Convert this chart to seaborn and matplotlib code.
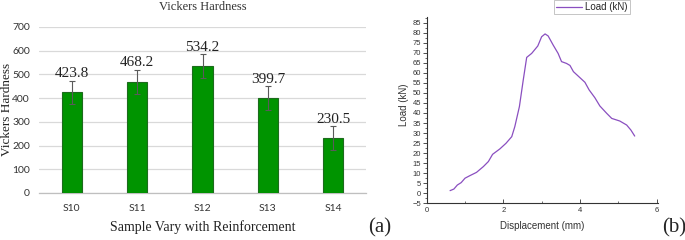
import numpy as np
import pandas as pd
import matplotlib
matplotlib.use("Agg")
import matplotlib.pyplot as plt
import seaborn as sns
from matplotlib.ticker import MultipleLocator

# ---- data ----
samples = ["S10", "S11", "S12", "S13", "S14"]
hardness = [423.8, 468.2, 534.2, 399.7, 230.5]
hardness_err = [50, 50, 50, 50, 50]

displacement = [0.61, 0.71, 0.80, 0.90, 1.00, 1.13, 1.30, 1.48, 1.61, 1.72, 1.91,
                2.07, 2.22, 2.30, 2.42, 2.52, 2.61, 2.74, 2.90, 3.00, 3.09, 3.17,
                3.30, 3.43, 3.52, 3.65, 3.74, 3.83, 4.00, 4.13, 4.24, 4.39, 4.52,
                4.70, 4.83, 5.04, 5.22, 5.33, 5.43]
load = [1.3, 2.1, 4.1, 5.3, 7.5, 8.8, 10.4, 13.3, 15.8, 19.4, 22.1,
        24.9, 28.2, 33.2, 43.2, 56.4, 67.7, 69.7, 73.4, 78.0, 79.4, 78.4,
        73.9, 69.7, 65.6, 64.7, 63.7, 60.6, 57.6, 55.3, 51.5, 47.6, 43.5,
        39.8, 37.3, 36.0, 34.0, 31.5, 28.5]

sns.set_theme(style="white")
plt.rcParams['font.family'] = ['Liberation Serif', 'DejaVu Sans']

fig = plt.figure(figsize=(6.85, 2.4), dpi=100)

# ---- left panel ----
axL = fig.add_axes([39/685, 0.196, (366-39)/685, 0.692])
df = pd.DataFrame({"sample": samples, "hv": hardness})
sns.barplot(data=df, x="sample", y="hv", ax=axL, color="#009400",
            saturation=1, width=0.31, edgecolor="#1d6b1d", linewidth=0.8,
            errorbar=None, zorder=3)
axL.errorbar(x=np.arange(len(samples)), y=hardness, yerr=hardness_err,
             fmt="none", ecolor="#5a5a5a", elinewidth=0.8, capsize=2.5,
             capthick=0.8, zorder=4)
for i, v in enumerate(hardness):
    axL.text(i, v + hardness_err[i] + 3, f"{v}", ha="center", va="bottom",
             fontsize=11, color="#222222")
axL.set_ylim(0, 700)
axL.set_xlim(-0.5, 4.5)
axL.yaxis.set_major_locator(MultipleLocator(100))
axL.grid(axis="y", color="#d9d9d9", linewidth=0.9, zorder=0)
axL.set_axisbelow(True)
for s in ["top", "right", "left"]:
    axL.spines[s].set_visible(False)
axL.spines["bottom"].set_color("#bfbfbf")
axL.spines["bottom"].set_linewidth(0.9)
axL.tick_params(axis="both", length=0, labelsize=7.5, colors="#333333", pad=8)
for lab in axL.get_xticklabels() + axL.get_yticklabels():
    lab.set_fontfamily("Lato")
axL.tick_params(axis="y", pad=6.5)
axL.set_title("Vickers Hardness", fontsize=9, color="#333333", pad=12)
axL.set_xlabel("Sample Vary with Reinforcement", fontsize=10, color="#222222", labelpad=5)
axL.set_ylabel("Vickers Hardness", fontsize=9.5, color="#222222")
axL.yaxis.set_label_coords(-0.081, 0.5)

fig.text(380/685, 1 - 228/240, "(a)", ha="center", va="center", fontsize=15)
fig.text(674/685, 1 - 228/240, "(b)", ha="center", va="center", fontsize=15)

# ---- right panel ----
axR = fig.add_axes([426.7/685, 0.153, 231/685, 0.775])
sns.lineplot(x=displacement, y=load, sort=False, ax=axR, color="#8a4fc0",
             linewidth=0.9, label="Load (kN)")
axR.set_xlim(0, 6.03)
axR.set_ylim(-5, 87.7)
axR.xaxis.set_major_locator(MultipleLocator(2))
axR.xaxis.set_minor_locator(MultipleLocator(1))
axR.yaxis.set_major_locator(MultipleLocator(5))
axR.yaxis.set_minor_locator(MultipleLocator(2.5))
for s in ["top", "right"]:
    axR.spines[s].set_visible(False)
for s in ["left", "bottom"]:
    axR.spines[s].set_color("#333333")
    axR.spines[s].set_linewidth(0.8)
axR.tick_params(axis="y", which="major", direction="out", length=3, width=0.6,
                labelsize=5.5, pad=1, colors="#333333", left=True)
axR.tick_params(axis="y", which="minor", direction="out", length=1.8, width=0.5,
                colors="#333333", left=True)
axR.tick_params(axis="x", which="major", direction="in", length=3, width=0.6,
                labelsize=5.5, pad=3, colors="#333333", bottom=True)
axR.tick_params(axis="x", which="minor", direction="in", length=1.8, width=0.5,
                colors="#333333", bottom=True)
for lab in axR.get_xticklabels() + axR.get_yticklabels():
    lab.set_fontfamily("Liberation Sans")
axR.set_xlabel("Displacement (mm)", fontsize=7, family="Liberation Sans",
               color="#333333", labelpad=5)
axR.set_ylabel("")
fig.text(404/685, 1 - 105/240, "Load (kN)", rotation=90, ha="center", va="center",
         fontsize=7, family="Liberation Sans", color="#333333")
leg = axR.legend(loc="upper center", bbox_to_anchor=(0.716, 1.095), frameon=True,
                 fancybox=False, fontsize=7, handlelength=2.6, handletextpad=0.4,
                 borderpad=0.25, borderaxespad=0)
leg.get_frame().set_edgecolor("#aaaaaa")
leg.get_frame().set_linewidth(0.6)
for t in leg.get_texts():
    t.set_fontfamily("Liberation Sans")

fig.savefig("out.png", dpi=100)
